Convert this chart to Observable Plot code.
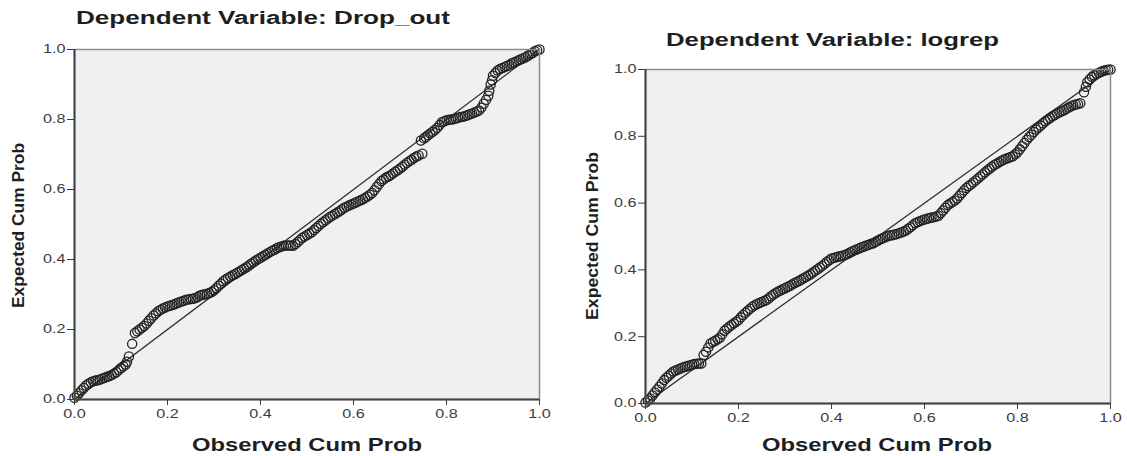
<!DOCTYPE html>
<html><head><meta charset="utf-8">
<script src="https://cdn.jsdelivr.net/npm/d3@7"></script>
<script src="https://cdn.jsdelivr.net/npm/@observablehq/plot@0.6"></script>
<style>
html,body{margin:0;padding:0;background:#fff;}
#root{position:relative;width:1127px;height:456px;overflow:hidden;font-family:"Liberation Sans",Arial,sans-serif;}
#root > svg{position:absolute;top:0;}
</style></head><body><div id="root"></div>
<script>
const ticks = [0, 0.2, 0.4, 0.6, 0.8, 1.0];
const refLine = [0, 1];
const titles = ["Dependent Variable: Drop_out", "Dependent Variable: logrep"];
const xLabel = "Observed Cum Prob";
const yLabel = "Expected Cum Prob";

// Drop_out: observed (x) vs expected (y) cumulative probability
const dropX = [0.00,0.01,0.02,0.03,0.04,0.05,0.06,0.07,0.08,0.09,0.10,0.11,0.117,0.124,0.13,0.14,0.15,0.16,0.17,0.18,0.19,0.20,0.21,0.22,0.23,0.24,0.25,0.26,0.27,0.28,0.29,0.30,0.31,0.32,0.33,0.34,0.35,0.36,0.37,0.38,0.39,0.40,0.41,0.42,0.43,0.44,0.45,0.46,0.47,0.48,0.49,0.50,0.51,0.52,0.53,0.54,0.55,0.56,0.57,0.58,0.59,0.60,0.61,0.62,0.63,0.64,0.65,0.66,0.67,0.68,0.69,0.70,0.71,0.72,0.73,0.74,0.748,0.745,0.76,0.77,0.78,0.79,0.80,0.81,0.82,0.83,0.84,0.85,0.86,0.87,0.88,0.89,0.895,0.90,0.91,0.92,0.93,0.94,0.95,0.96,0.97,0.98,0.99,1.00];
const dropY = [0.005,0.018,0.033,0.045,0.052,0.055,0.06,0.065,0.07,0.078,0.09,0.10,0.123,0.159,0.19,0.20,0.21,0.225,0.24,0.252,0.26,0.266,0.27,0.275,0.28,0.285,0.287,0.29,0.297,0.30,0.304,0.312,0.325,0.338,0.347,0.355,0.362,0.37,0.378,0.388,0.397,0.405,0.413,0.421,0.428,0.435,0.439,0.44,0.439,0.45,0.462,0.47,0.478,0.49,0.502,0.512,0.522,0.53,0.538,0.548,0.554,0.56,0.566,0.572,0.58,0.59,0.607,0.624,0.634,0.641,0.651,0.66,0.671,0.681,0.69,0.697,0.702,0.74,0.755,0.765,0.776,0.792,0.798,0.80,0.803,0.807,0.81,0.815,0.82,0.826,0.845,0.868,0.90,0.925,0.94,0.947,0.953,0.96,0.966,0.972,0.978,0.986,0.995,1.0];
const dropX2 = [0.005,0.015,0.025,0.035,0.045,0.055,0.065,0.075,0.085,0.095,0.105,0.113,0.135,0.145,0.155,0.165,0.175,0.185,0.195,0.205,0.215,0.225,0.235,0.245,0.255,0.265,0.275,0.285,0.295,0.305,0.315,0.325,0.335,0.345,0.355,0.365,0.375,0.385,0.395,0.405,0.415,0.425,0.435,0.445,0.455,0.465,0.475,0.485,0.495,0.505,0.515,0.525,0.535,0.545,0.555,0.565,0.575,0.585,0.595,0.605,0.615,0.625,0.635,0.645,0.655,0.665,0.675,0.685,0.695,0.705,0.715,0.725,0.735,0.752,0.755,0.765,0.775,0.785,0.795,0.805,0.815,0.825,0.835,0.845,0.855,0.865,0.875,0.885,0.892,0.898,0.905,0.915,0.925,0.935,0.945,0.955,0.965,0.975,0.985,0.995];
const dropY2 = [0.011,0.026,0.04,0.049,0.054,0.057,0.062,0.067,0.074,0.084,0.095,0.108,0.195,0.205,0.217,0.232,0.246,0.256,0.263,0.268,0.272,0.278,0.282,0.286,0.288,0.293,0.299,0.302,0.307,0.318,0.331,0.343,0.351,0.358,0.366,0.374,0.383,0.392,0.401,0.409,0.417,0.425,0.432,0.437,0.44,0.44,0.444,0.456,0.466,0.474,0.484,0.496,0.507,0.517,0.526,0.534,0.543,0.551,0.557,0.563,0.569,0.576,0.585,0.598,0.616,0.629,0.637,0.646,0.655,0.665,0.676,0.685,0.694,0.746,0.75,0.76,0.77,0.784,0.795,0.799,0.801,0.805,0.808,0.812,0.817,0.823,0.834,0.856,0.882,0.912,0.933,0.944,0.95,0.956,0.963,0.969,0.975,0.982,0.99,0.998];

// logrep: observed (x) vs expected (y) cumulative probability
const logX = [0.00,0.01,0.02,0.03,0.04,0.05,0.06,0.07,0.08,0.09,0.10,0.11,0.12,0.125,0.13,0.14,0.15,0.16,0.17,0.18,0.19,0.20,0.21,0.22,0.23,0.24,0.25,0.26,0.27,0.28,0.29,0.30,0.31,0.32,0.33,0.34,0.35,0.36,0.37,0.38,0.39,0.40,0.41,0.42,0.43,0.44,0.45,0.46,0.47,0.48,0.49,0.50,0.51,0.52,0.53,0.54,0.55,0.56,0.57,0.58,0.59,0.60,0.61,0.62,0.63,0.64,0.65,0.66,0.67,0.68,0.69,0.70,0.71,0.72,0.73,0.74,0.75,0.76,0.77,0.78,0.79,0.80,0.81,0.82,0.83,0.84,0.85,0.86,0.87,0.88,0.89,0.90,0.91,0.92,0.93,0.935,0.943,0.95,0.96,0.97,0.98,0.99,1.00];
const logY = [0.003,0.015,0.033,0.05,0.07,0.083,0.096,0.102,0.108,0.112,0.116,0.119,0.12,0.145,0.155,0.18,0.188,0.197,0.218,0.23,0.24,0.25,0.265,0.278,0.29,0.298,0.304,0.31,0.321,0.331,0.338,0.345,0.352,0.36,0.367,0.375,0.383,0.392,0.402,0.412,0.424,0.434,0.438,0.441,0.445,0.452,0.459,0.465,0.47,0.475,0.48,0.488,0.495,0.501,0.504,0.507,0.512,0.518,0.528,0.54,0.546,0.551,0.555,0.558,0.562,0.578,0.594,0.603,0.614,0.63,0.645,0.656,0.668,0.68,0.692,0.703,0.714,0.722,0.73,0.735,0.74,0.752,0.77,0.79,0.805,0.82,0.832,0.845,0.855,0.864,0.872,0.878,0.886,0.893,0.897,0.899,0.932,0.962,0.978,0.987,0.993,0.998,1.0];
const logX2 = [0.005,0.015,0.025,0.035,0.045,0.055,0.065,0.075,0.085,0.095,0.105,0.115,0.135,0.145,0.155,0.165,0.175,0.185,0.195,0.205,0.215,0.225,0.235,0.245,0.255,0.265,0.275,0.285,0.295,0.305,0.315,0.325,0.335,0.345,0.355,0.365,0.375,0.385,0.395,0.405,0.415,0.425,0.435,0.445,0.455,0.465,0.475,0.485,0.495,0.505,0.515,0.525,0.535,0.545,0.555,0.565,0.575,0.585,0.595,0.605,0.615,0.625,0.635,0.645,0.655,0.665,0.675,0.685,0.695,0.705,0.715,0.725,0.735,0.745,0.755,0.765,0.775,0.785,0.795,0.805,0.815,0.825,0.835,0.845,0.855,0.865,0.875,0.885,0.895,0.905,0.915,0.925,0.947,0.955,0.965,0.975,0.985,0.995];
const logY2 = [0.009,0.024,0.042,0.06,0.077,0.09,0.099,0.105,0.11,0.114,0.118,0.12,0.168,0.184,0.192,0.207,0.224,0.235,0.245,0.258,0.272,0.284,0.294,0.301,0.307,0.315,0.326,0.335,0.342,0.349,0.356,0.364,0.371,0.379,0.387,0.397,0.407,0.418,0.429,0.436,0.44,0.443,0.448,0.456,0.462,0.468,0.473,0.478,0.484,0.492,0.498,0.503,0.506,0.51,0.515,0.523,0.534,0.543,0.549,0.553,0.557,0.56,0.57,0.586,0.599,0.608,0.622,0.638,0.651,0.662,0.674,0.686,0.698,0.709,0.718,0.726,0.733,0.738,0.746,0.761,0.78,0.798,0.813,0.826,0.839,0.85,0.86,0.868,0.875,0.882,0.89,0.895,0.948,0.97,0.983,0.99,0.996,0.999];

const FONT = '"Liberation Sans", Arial, sans-serif';
const root = document.getElementById("root");

function ppPlot(xs, ys, m) {
  const data = xs.map((x, i) => ({x, y: ys[i]}));
  const svg = Plot.plot({
    width: m.width, height: 456,
    marginLeft: m.left, marginRight: m.right, marginTop: m.top, marginBottom: m.bottom,
    style: {fontFamily: FONT, fontSize: "12px", color: "#3c3c3c", background: "transparent", overflow: "visible"},
    x: {domain: [0, 1]},
    y: {domain: [0, 1]},
    marks: [
      Plot.frame({fill: "#eff0f2", stroke: "none"}),
      Plot.line(refLine, {x: d => d, y: d => d, stroke: "#2e2e2e", strokeWidth: 1.3}),
      Plot.dot(data, {x: "x", y: "y", r: 4.6, stroke: "#222", strokeWidth: 1.3, fill: "none"}),
      Plot.frame({stroke: "#8c8c8c", strokeWidth: 1.5}),
      Plot.ruleX([0], {stroke: "#444", strokeWidth: 2}),
      Plot.ruleY([0], {stroke: "#444", strokeWidth: 2}),
      Plot.axisX({ticks, tickFormat: d3.format(".1f"), tickSize: 6, tickPadding: 4, label: null}),
      Plot.axisY({ticks, tickFormat: d3.format(".1f"), tickSize: 7, tickPadding: 2, label: null})
    ]
  });
  svg.style.left = m.x + "px";
  d3.select(svg).selectAll('g[aria-label="x-axis tick label"] text, g[aria-label="y-axis tick label"] text')
    .each(function() {
      const t = this.getAttribute("transform") || "";
      this.setAttribute("transform", t + " scale(1.35,1)");
    });
  root.appendChild(svg);
}

ppPlot(dropX.concat(dropX2), dropY.concat(dropY2), {x: 0, width: 560, left: 74, right: 21, top: 49, bottom: 57});
ppPlot(logX.concat(logX2), logY.concat(logY2), {x: 560, width: 567, left: 85, right: 17, top: 69, bottom: 53});

// Titles and axis labels
const ov = d3.create("svg").attr("width", 1127).attr("height", 456)
  .style("left", "0px").style("font-family", FONT).style("font-weight", "bold").attr("fill", "#1e1e1e");
function label(text, x, y, len, size, anchor, rot) {
  const t = ov.append("text").attr("x", x).attr("y", y).attr("font-size", size)
    .attr("text-anchor", anchor).attr("textLength", len).attr("lengthAdjust", "spacingAndGlyphs").text(text);
  if (rot) t.attr("transform", `rotate(-90 ${x} ${y})`);
}
label(titles[0], 76, 24, 374, 18, "start", false);
label(titles[1], 666, 46, 333, 18, "start", false);
label(yLabel, 24, 225.5, 165, 16, "middle", true);
label(yLabel, 598, 236, 168, 16, "middle", true);
label(xLabel, 307, 451, 230, 18, "middle", false);
label(xLabel, 877, 451, 230, 18, "middle", false);
root.appendChild(ov.node());
</script>
</body></html>
